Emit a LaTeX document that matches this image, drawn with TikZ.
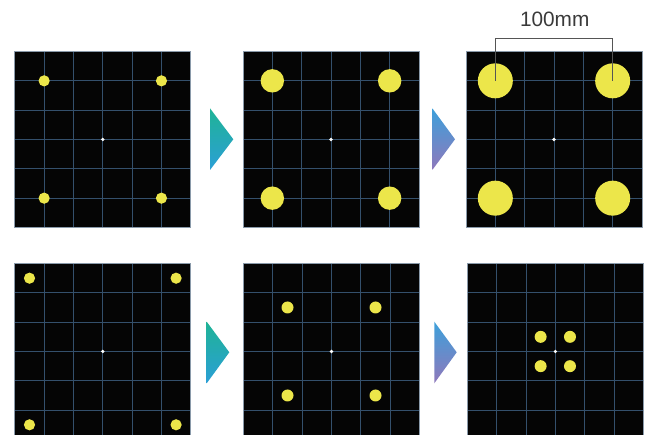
\documentclass[tikz,border=0pt]{standalone}
\usepackage{fontspec}
\setmainfont{Liberation Sans}
\definecolor{panelbg}{HTML}{050505}
\definecolor{gridc}{HTML}{34506C}
\definecolor{borderc}{HTML}{8A9AAA}
\definecolor{dotc}{HTML}{ECE64A}
\definecolor{tealA}{HTML}{1FB396}
\definecolor{tealB}{HTML}{2B9FD6}
\definecolor{blueA}{HTML}{3DA0DA}
\definecolor{purpB}{HTML}{8F78BB}
\definecolor{textgray}{HTML}{3A3A3A}
\definecolor{dimc}{HTML}{555555}
\tikzset{
  gridline/.style={draw=gridc,line width=0.75pt},
  panelborder/.style={draw=borderc,line width=0.8pt},
  yellowdot/.style={fill=dotc},
  dimline/.style={draw=dimc,line width=1.2pt},
  dimlabel/.style={font=\fontsize{20.8}{25}\selectfont,text=textgray,inner sep=0pt,anchor=base},
}
\newcommand\gridpanel[2]{%
  \fill[panelbg] (#1-88,#2-88) rectangle (#1+88,#2+88);
  \foreach \k in {-58.667,-29.333,0,29.333,58.667} {
    \draw[gridline] (#1+\k,#2-88) -- (#1+\k,#2+88);
    \draw[gridline] (#1-88,#2+\k) -- (#1+88,#2+\k);
  }
  \draw[panelborder] (#1-88,#2-88) rectangle (#1+88,#2+88);
  \fill[white] (#1,#2) circle (1.8);
}
\newcommand\fourdots[4]{% cx cy offset radius
  \fill[yellowdot] (#1-#3,#2-#3) circle (#4);
  \fill[yellowdot] (#1+#3,#2-#3) circle (#4);
  \fill[yellowdot] (#1-#3,#2+#3) circle (#4);
  \fill[yellowdot] (#1+#3,#2+#3) circle (#4);
}
\begin{document}
\begin{tikzpicture}[x=1pt,y=-1pt]
\useasboundingbox (0,0) rectangle (646,435);
\clip (0,0) rectangle (646,435);
% top row
\gridpanel{102.8}{139.5}
\fourdots{102.8}{139.5}{58.667}{5.6}
\gridpanel{331}{139.5}
\fourdots{331}{139.5}{58.667}{11.7}
\gridpanel{554}{139.5}
\fourdots{554}{139.5}{58.667}{17.5}
% bottom row
\gridpanel{102.8}{351.5}
\fourdots{102.8}{351.5}{73.3}{5.6}
\gridpanel{331.5}{351.5}
\fourdots{331.5}{351.5}{44}{6}
\gridpanel{555.3}{351.5}
\fourdots{555.3}{351.5}{14.67}{6}
% arrows
\shade[top color=tealA,bottom color=tealB] (210,108.3) -- (210,170) -- (233.3,139.3) -- cycle;
\shade[top color=blueA,bottom color=purpB] (432.3,108.3) -- (432.3,170) -- (455,139.3) -- cycle;
\shade[top color=tealA,bottom color=tealB] (206.7,321.7) -- (206.7,383.3) -- (229.3,352.3) -- cycle;
\shade[top color=blueA,bottom color=purpB] (434.3,321.7) -- (434.3,383.3) -- (456.7,352.3) -- cycle;
% dimension
\coordinate (dL) at (554-58.667,139.5-58.667);
\coordinate (dR) at (554+58.667,139.5-58.667);
\coordinate (bL) at (554-58.667,38.3);
\coordinate (bR) at (554+58.667,38.3);
\draw[dimline] (dL) -- (bL) -- (bR) -- (dR);
\node[dimlabel] (lbl) at (554.7,26.7) {100mm};
\end{tikzpicture}
\end{document}
